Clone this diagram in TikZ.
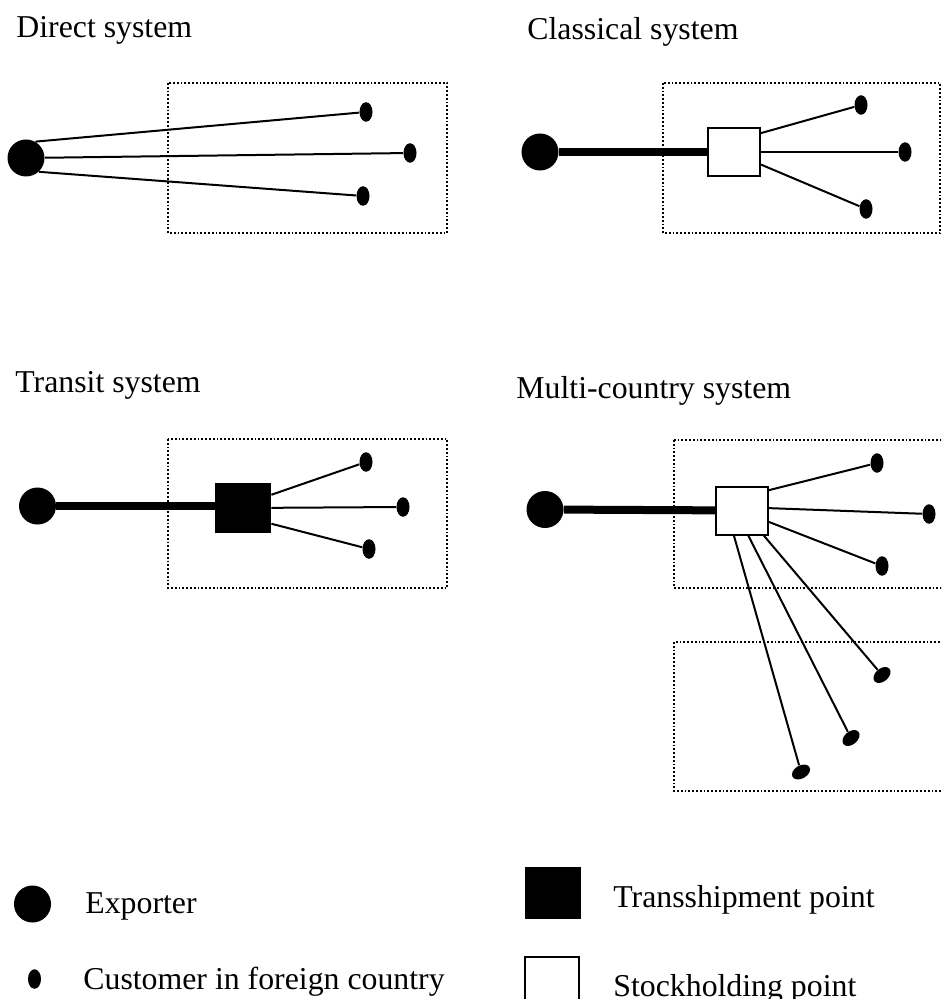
\documentclass[tikz,border=0pt]{standalone}
\usepackage{fontspec}
\setmainfont{Liberation Serif}
\usetikzlibrary{shapes.geometric}

\begin{document}
\begin{tikzpicture}[
  x=0.5pt,y=-0.5pt,
  font=\fontsize{15.9}{19}\selectfont,
  exporter/.style={circle,fill=black,inner sep=0pt,minimum size=18.5pt},
  customer/.style={ellipse,fill=black,inner sep=0pt,minimum width=6.5pt,minimum height=9.75pt},
  stock/.style={rectangle,draw=black,line width=1pt,fill=white,inner sep=0pt,minimum width=26pt,minimum height=24pt},
  tranship/.style={rectangle,fill=black,inner sep=0pt,minimum width=28pt,minimum height=25pt},
  country/.style={line width=0.9pt,densely dotted},
  link/.style={line width=1pt},
  trunk/.style={line width=4pt},
  title/.style={anchor=base west,inner sep=0pt},
]
\useasboundingbox (0,0) rectangle (941,999);
\clip (0,0) rectangle (941,999);

% ============ PANEL: direct system ============
\node[title] (lbldir) at (16,37.5) {Direct system};
\draw[country] (168,83) rectangle (447,233);
\node[exporter] (dexp) at (26,158) {};
\node[customer] (dc1) at (366,112) {};
\node[customer] (dc2) at (410,153) {};
\node[customer] (dc3) at (363,196) {};
\draw[link] (dexp.60) -- (dc1); \draw[link] (dexp) -- (dc2); \draw[link] (dexp.-47) -- (dc3);

% ============ PANEL: classical system ============
\node[title] (lblcla) at (527,40) {Classical system};
\draw[country] (663,83) rectangle (940,233);
\node[exporter] (cexp) at (540,152) {};
\node[stock] (csto) at (734,152) {};
\node[customer] (cc1) at (861,105) {};
\node[customer] (cc2) at (905,152) {};
\node[customer] (cc3) at (866,209) {};
\draw[trunk] (cexp) -- (csto);
\draw[link] (csto.35) -- (cc1); \draw[link] (csto) -- (cc2); \draw[link] (csto.-25) -- (cc3);

% ============ PANEL: transit system ============
\node[title] (lbltra) at (15,393) {Transit system};
\draw[country] (168,439) rectangle (447,588);
\node[exporter] (texp) at (37.5,506) {};
\node[tranship] (tpt) at (243,508) {};
\node[customer] (tc1) at (366,462) {};
\node[customer] (tc2) at (403,507) {};
\node[customer] (tc3) at (369,549) {};
\draw[trunk] (texp) -- (texp -| tpt.west);
\draw[link] (tpt.25) -- (tc1); \draw[link] (tpt) -- (tc2); \draw[link] (tpt.-29) -- (tc3);

% ============ PANEL: multi-country system ============
\node[title] (lblmul) at (516,399) {Multi-country system};
\draw[country] (674,440) rectangle (960,588);
\draw[country] (674,642) rectangle (960,791);
\node[exporter] (mexp) at (545,509.5) {};
\node[stock] (msto) at (742,510.5) {};
\node[customer] (mc1) at (877,463) {};
\node[customer] (mc2) at (929,514) {};
\node[customer] (mc3) at (882,566) {};
\node[customer,rotate=-50] (mc4) at (882,675) {};
\node[customer,rotate=-50] (mc5) at (851,738) {};
\node[customer,rotate=-60] (mc6) at (801,772) {};
\draw[trunk] (mexp) -- (msto);
\draw[link] (msto.37) -- (mc1); \draw[link] (msto.5) -- (mc2); \draw[link] (msto.-23) -- (mc3);
\draw[link] (msto.-49) -- (mc4); \draw[link] (msto.-76) -- (mc5); \draw[link] (msto.-108) -- (mc6);

% ============ LEGEND ============
\node[exporter] (lexp) at (32.5,904) {};
\node[title] (lblexp) at (85,913) {Exporter};
\node[customer] (lcus) at (34.5,979) {};
\node[title] (lblcus) at (83,989) {Customer in foreign country};
\node[tranship,minimum height=26pt] (ltpt) at (553,893) {};
\node[title] (lbltpt) at (613,907) {Transshipment point};
\node[stock,anchor=north,minimum width=27pt,minimum height=40pt] (lsto) at (551.5,956) {};
\node[title] (lblsto) at (613,996) {Stockholding point};

\end{tikzpicture}
\end{document}
